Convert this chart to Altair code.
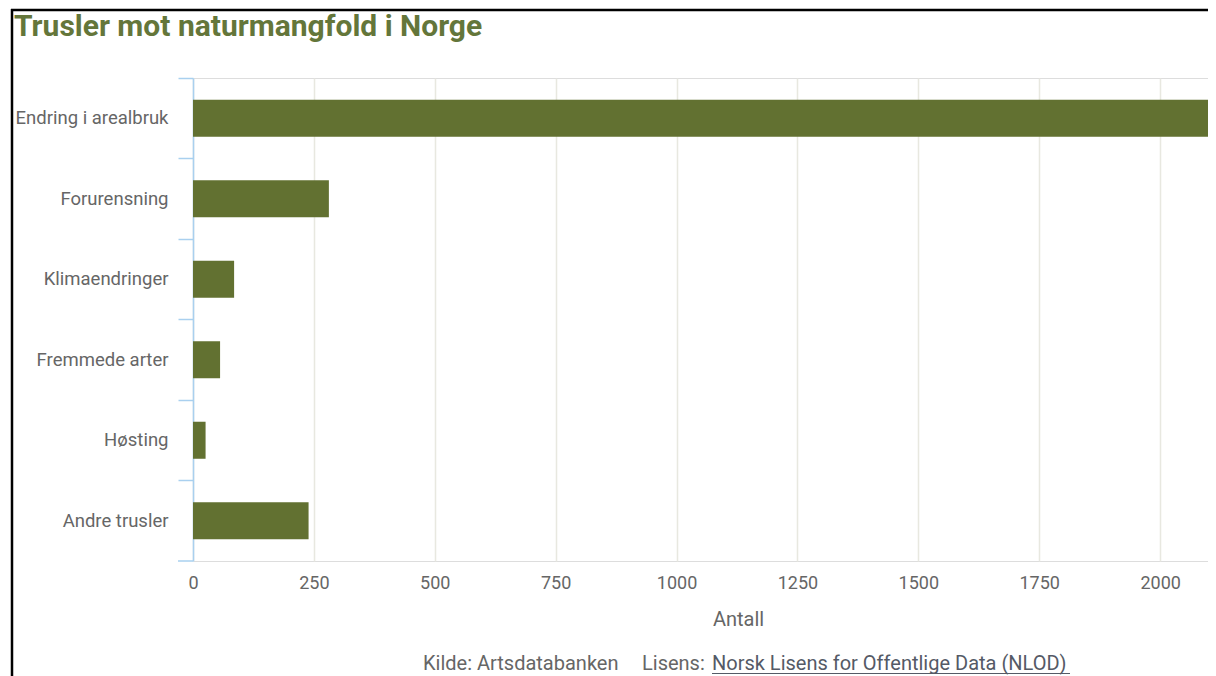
import altair as alt
import pandas as pd

categories = ["Endring i arealbruk", "Forurensning", "Klimaendringer",
              "Fremmede arter", "Høsting", "Andre trusler"]
values = [2190, 281, 85, 56, 26, 239]
x_ticks = [0, 250, 500, 750, 1000, 1250, 1500, 1750, 2000]

title_text = "Trusler mot naturmangfold i Norge"
x_title = "Antall"
source_text = "Kilde: Artsdatabanken"
license_label = "Lisens:"
license_link = "Norsk Lisens for Offentlige Data (NLOD)"

df = pd.DataFrame({"Trussel": categories, "Antall": values})

W, H = 1015, 483
OLIVE = "#627131"
FONT = "Roboto"
GRAY = "#666666"
BLUE = "#a9d0ef"

bars = alt.Chart(df).mark_bar(color=OLIVE, height={"band": 0.46}, clip=True).encode(
    x=alt.X("Antall:Q",
            scale=alt.Scale(domain=[0, 2099], nice=False, zero=True),
            axis=alt.Axis(values=x_ticks, format="d", title=x_title, grid=True,
                          gridColor="#e8e8e0", gridWidth=1.5, domain=False, ticks=False,
                          labelFont=FONT, labelFontSize=18, labelColor=GRAY,
                          labelPadding=13, labelFlush=False, titleFont=FONT,
                          titleFontSize=20, titleFontWeight="normal", titleColor=GRAY,
                          titleX=545, titleY=64, titleBaseline="alphabetic",
                          titleAlign="center")),
    y=alt.Y("Trussel:N", sort=categories,
            scale=alt.Scale(paddingInner=0, paddingOuter=0),
            axis=alt.Axis(title=None, domainColor=BLUE, domainWidth=1.5, tickColor=BLUE,
                          tickWidth=1.5, tickSize=15, bandPosition=0, labelFont=FONT,
                          labelFontSize=18.5, labelColor=GRAY, labelPadding=10,
                          grid=False)),
)

one = alt.Data(values=[{}])

bottom_tick = alt.Chart(one).mark_rule(color=BLUE, strokeWidth=1.5).encode(
    x=alt.value(-15), x2=alt.value(0), y=alt.value(H))

title = alt.Chart(one).mark_text(text=title_text, font=FONT, fontSize=30, fontWeight="bold",
                                 color="#64763a", align="left", baseline="alphabetic").encode(
    x=alt.value(-179), y=alt.value(-42))

src1 = alt.Chart(one).mark_text(text=source_text, font=FONT, fontSize=20, color=GRAY,
                                align="left", baseline="alphabetic").encode(
    x=alt.value(230), y=alt.value(592))
src2 = alt.Chart(one).mark_text(text=license_label, font=FONT, fontSize=20, color=GRAY,
                                align="left", baseline="alphabetic").encode(
    x=alt.value(449), y=alt.value(592))
src3 = alt.Chart(one).mark_text(text=license_link, font=FONT, fontSize=20, color="#555a66",
                                align="left", baseline="alphabetic").encode(
    x=alt.value(519), y=alt.value(592))
underline = alt.Chart(one).mark_rule(color="#555a66", strokeWidth=1).encode(
    x=alt.value(519), x2=alt.value(877), y=alt.value(595.5))

frame_left = alt.Chart(one).mark_rule(color="black", strokeWidth=2.5).encode(
    x=alt.value(-181), y=alt.value(-69), y2=alt.value(600))
frame_top = alt.Chart(one).mark_rule(color="black", strokeWidth=2.5).encode(
    x=alt.value(-182), x2=alt.value(W + 5), y=alt.value(-68))

chart = alt.layer(bars, bottom_tick, title, src1, src2, src3, underline,
                  frame_left, frame_top).properties(
    width=W, height=H,
    autosize=alt.AutoSizeParams(type="none"),
    padding={"left": 185, "top": 70, "right": 0, "bottom": 115},
).configure_view(stroke=None).configure(background="white")

chart.save("out.html", embed_options={"renderer": "svg", "actions": False})
